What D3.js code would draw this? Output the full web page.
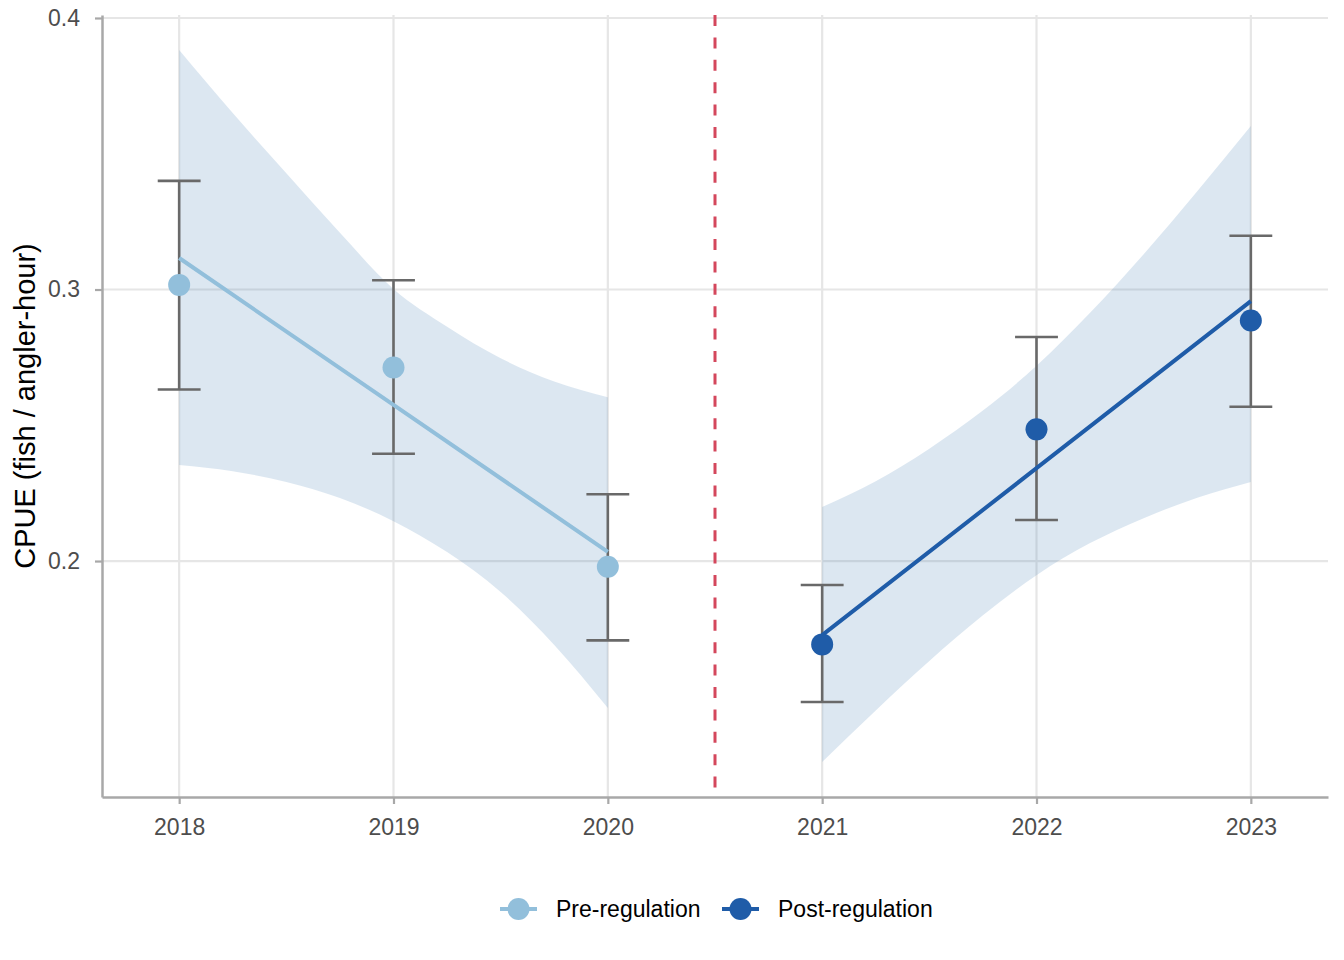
<!DOCTYPE html>
<html>
<head>
<meta charset="utf-8">
<script src="https://cdn.jsdelivr.net/npm/d3@7.9.0/dist/d3.min.js"></script>
<style>
  body { margin: 0; background: #fff; }
  svg { display: block; font-family: "Liberation Sans", Arial, Helvetica, sans-serif; }
</style>
</head>
<body>
<svg id="chart"></svg>
<script>
// Yearly CPUE means with interval bounds
const preYears = [2018, 2019, 2020];
const preMean = [0.3017, 0.2713, 0.1979];
const preLow = [0.2632, 0.2395, 0.1708];
const preHigh = [0.3400, 0.3034, 0.2246];

const postYears = [2021, 2022, 2023];
const postMean = [0.1693, 0.2485, 0.2886];
const postLow = [0.1481, 0.2151, 0.2568];
const postHigh = [0.1912, 0.2825, 0.3198];

// Fitted trend lines (read at each year)
const preFit = [0.3116, 0.2575, 0.2034];
const postFit = [0.1727, 0.2342, 0.2957];

// Confidence bands, sampled every quarter year
const preBandX = [2018, 2018.25, 2018.5, 2018.75, 2019, 2019.25, 2019.5, 2019.75, 2020];
const preBandUpper = [0.3882, 0.3650, 0.3428, 0.3209, 0.3002, 0.2863, 0.2747, 0.2661, 0.2603];
const preBandLower = [0.2354, 0.2331, 0.2291, 0.2232, 0.2147, 0.2033, 0.1886, 0.1691, 0.1459];

const postBandX = [2021, 2021.25, 2021.5, 2021.75, 2022, 2022.25, 2022.5, 2022.75, 2023];
const postBandUpper = [0.2199, 0.2294, 0.2414, 0.2554, 0.2719, 0.2914, 0.3130, 0.3362, 0.3602];
const postBandLower = [0.1260, 0.1450, 0.1632, 0.1800, 0.1948, 0.2066, 0.2158, 0.2233, 0.2291];

const xTicks = [2018, 2019, 2020, 2021, 2022, 2023];
const yTicks = [0.2, 0.3, 0.4];
const regulationYear = 2020.5;
const groups = ["Pre-regulation", "Post-regulation"];

const W = 1344, H = 960;
const margin = { top: 15, right: 16, bottom: 163, left: 102 };

const color = d3.scaleOrdinal()
    .domain(groups)
    .range(["#92bfdb", "#1f5ca8"]);

const svg = d3.select("#chart")
    .attr("width", W)
    .attr("height", H);

const x = d3.scaleLinear()
    .domain([2017.64, 2023.36])
    .range([margin.left, W - margin.right]);

const y = d3.scaleLinear()
    .domain([0.1131, 0.4011])
    .range([H - margin.bottom, margin.top]);

// Grid
svg.append("g")
    .selectAll("line")
    .data(yTicks)
    .join("line")
    .attr("x1", margin.left)
    .attr("x2", W - margin.right)
    .attr("y1", d => y(d))
    .attr("y2", d => y(d))
    .attr("stroke", "#e6e6e6")
    .attr("stroke-width", 2.2);

svg.append("g")
    .selectAll("line")
    .data(xTicks)
    .join("line")
    .attr("x1", d => x(d))
    .attr("x2", d => x(d))
    .attr("y1", margin.top)
    .attr("y2", H - margin.bottom)
    .attr("stroke", "#e6e6e6")
    .attr("stroke-width", 2.2);

// Bands
const area = d3.area()
    .x(d => x(d.x))
    .y0(d => y(d.lo))
    .y1(d => y(d.hi))
    .curve(d3.curveMonotoneX);

const bands = [
    preBandX.map((v, i) => ({ x: v, lo: preBandLower[i], hi: preBandUpper[i] })),
    postBandX.map((v, i) => ({ x: v, lo: postBandLower[i], hi: postBandUpper[i] }))
];

svg.append("g")
    .selectAll("path")
    .data(bands)
    .join("path")
    .attr("d", area)
    .attr("fill", "#4682b4")
    .attr("fill-opacity", 0.19);

// Regulation change
svg.append("line")
    .attr("x1", x(regulationYear))
    .attr("x2", x(regulationYear))
    .attr("y1", margin.top)
    .attr("y2", H - margin.bottom)
    .attr("stroke", "#d4475c")
    .attr("stroke-width", 3)
    .attr("stroke-dasharray", "11,11.4");

// Axes
const yAxis = svg.append("g")
    .attr("transform", `translate(${margin.left},0)`)
    .call(d3.axisLeft(y).tickValues(yTicks).tickFormat(d3.format(".1f"))
        .tickSize(7).tickSizeOuter(0).tickPadding(15));

const xAxis = svg.append("g")
    .attr("transform", `translate(0,${H - margin.bottom})`)
    .call(d3.axisBottom(x).tickValues(xTicks).tickFormat(d3.format("d"))
        .tickSize(7).tickSizeOuter(0).tickPadding(15));

[xAxis, yAxis].forEach(ax => {
    ax.select(".domain").attr("stroke", "#a8a8a8").attr("stroke-width", 2.5);
    ax.selectAll(".tick line").attr("stroke", "#a8a8a8").attr("stroke-width", 2.2);
    ax.selectAll(".tick text")
        .attr("fill", "#4d4d4d")
        .style("font-size", "23px")
        .style("font-family", "'Liberation Sans', Arial, sans-serif");
});

// Y-axis label
svg.append("text")
    .attr("transform", "rotate(-90)")
    .attr("x", -(margin.top + H - margin.bottom) / 2)
    .attr("y", 35)
    .attr("text-anchor", "middle")
    .attr("fill", "#000")
    .style("font-size", "29px")
    .text("CPUE (fish / angler-hour)");

// Series
const series = [
    { name: groups[0], years: preYears, mean: preMean, lo: preLow, hi: preHigh, fit: preFit },
    { name: groups[1], years: postYears, mean: postMean, lo: postLow, hi: postHigh, fit: postFit }
];

const capHalf = 0.1;

series.forEach(s => {
    const g = svg.append("g");
    const rows = s.years.map((yr, i) => ({ yr, mean: s.mean[i], lo: s.lo[i], hi: s.hi[i], fit: s.fit[i] }));

    // Error bars
    const eb = g.append("g")
        .attr("stroke", "#696969")
        .attr("stroke-width", 2.6)
        .attr("fill", "none");

    eb.selectAll(".stem")
        .data(rows)
        .join("line")
        .attr("x1", d => x(d.yr))
        .attr("x2", d => x(d.yr))
        .attr("y1", d => y(d.lo))
        .attr("y2", d => y(d.hi));

    ["lo", "hi"].forEach(k => {
        eb.selectAll(".cap-" + k)
            .data(rows)
            .join("line")
            .attr("x1", d => x(d.yr - capHalf))
            .attr("x2", d => x(d.yr + capHalf))
            .attr("y1", d => y(d[k]))
            .attr("y2", d => y(d[k]));
    });

    // Trend
    g.append("path")
        .datum(rows)
        .attr("d", d3.line().x(d => x(d.yr)).y(d => y(d.fit)))
        .attr("fill", "none")
        .attr("stroke", color(s.name))
        .attr("stroke-width", 4);

    // Points
    g.selectAll("circle")
        .data(rows)
        .join("circle")
        .attr("cx", d => x(d.yr))
        .attr("cy", d => y(d.mean))
        .attr("r", 11)
        .attr("fill", color(s.name));
});

// Legend
const legendItems = [
    { name: groups[0], x0: 500 },
    { name: groups[1], x0: 722 }
];

const legend = svg.append("g")
    .attr("transform", "translate(0,909)");

const item = legend.selectAll("g")
    .data(legendItems)
    .join("g")
    .attr("transform", d => `translate(${d.x0},0)`);

item.append("line")
    .attr("x1", 0)
    .attr("x2", 37)
    .attr("stroke", d => color(d.name))
    .attr("stroke-width", 4);

item.append("circle")
    .attr("cx", 18.5)
    .attr("r", 11)
    .attr("fill", d => color(d.name));

item.append("text")
    .attr("x", 56)
    .attr("y", 8)
    .attr("fill", "#000")
    .style("font-size", "23px")
    .text(d => d.name);
</script>
</body>
</html>
